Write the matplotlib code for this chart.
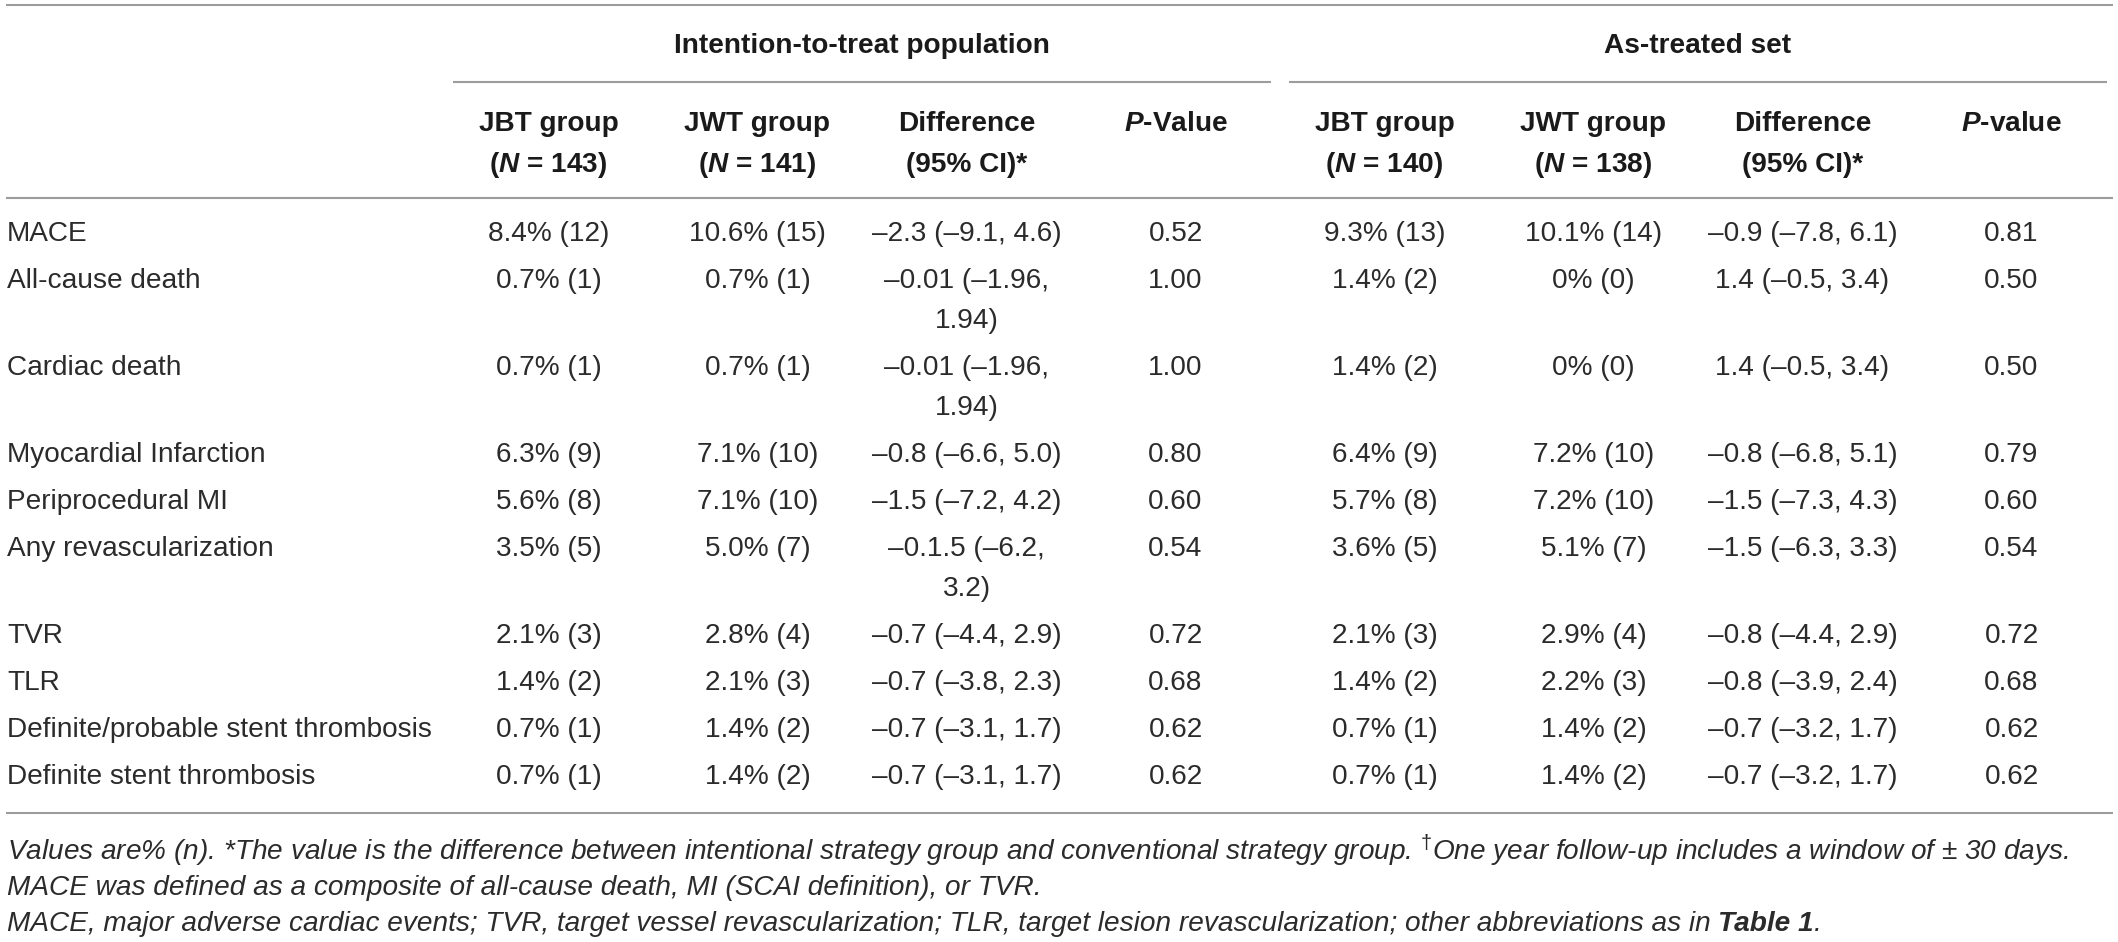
import matplotlib
matplotlib.use("Agg")
import matplotlib.pyplot as plt
from matplotlib import font_manager

FONT = "Liberation Sans"
plt.rcParams["font.family"] = [FONT, "DejaVu Sans"]
plt.rcParams["mathtext.fontset"] = "custom"
plt.rcParams["mathtext.rm"] = FONT
plt.rcParams["mathtext.it"] = FONT + ":italic:bold"
plt.rcParams["mathtext.bf"] = FONT + ":bold"

# ---- table content -------------------------------------------------------
groups = ["Intention-to-treat population", "As-treated set"]
col_heads = [
    ["JBT group", r"($N$ = 143)"],
    ["JWT group", r"($N$ = 141)"],
    ["Difference", "(95% CI)*"],
    [r"$P$-Value"],
    ["JBT group", r"($N$ = 140)"],
    ["JWT group", r"($N$ = 138)"],
    ["Difference", "(95% CI)*"],
    [r"$P$-value"],
]
labels = ["MACE", "All-cause death", "Cardiac death", "Myocardial Infarction",
          "Periprocedural MI", "Any revascularization", "TVR", "TLR",
          "Definite/probable stent thrombosis", "Definite stent thrombosis"]

itt_jbt = ["8.4% (12)", "0.7% (1)", "0.7% (1)", "6.3% (9)", "5.6% (8)",
           "3.5% (5)", "2.1% (3)", "1.4% (2)", "0.7% (1)", "0.7% (1)"]
itt_jwt = ["10.6% (15)", "0.7% (1)", "0.7% (1)", "7.1% (10)", "7.1% (10)",
           "5.0% (7)", "2.8% (4)", "2.1% (3)", "1.4% (2)", "1.4% (2)"]
itt_diff = ["–2.3 (–9.1, 4.6)", "–0.01 (–1.96, 1.94)", "–0.01 (–1.96, 1.94)",
            "–0.8 (–6.6, 5.0)", "–1.5 (–7.2, 4.2)", "–0.1.5 (–6.2, 3.2)",
            "–0.7 (–4.4, 2.9)", "–0.7 (–3.8, 2.3)", "–0.7 (–3.1, 1.7)",
            "–0.7 (–3.1, 1.7)"]
itt_p = ["0.52", "1.00", "1.00", "0.80", "0.60", "0.54", "0.72", "0.68",
         "0.62", "0.62"]
at_jbt = ["9.3% (13)", "1.4% (2)", "1.4% (2)", "6.4% (9)", "5.7% (8)",
          "3.6% (5)", "2.1% (3)", "1.4% (2)", "0.7% (1)", "0.7% (1)"]
at_jwt = ["10.1% (14)", "0% (0)", "0% (0)", "7.2% (10)", "7.2% (10)",
          "5.1% (7)", "2.9% (4)", "2.2% (3)", "1.4% (2)", "1.4% (2)"]
at_diff = ["–0.9 (–7.8, 6.1)", "1.4 (–0.5, 3.4)", "1.4 (–0.5, 3.4)",
           "–0.8 (–6.8, 5.1)", "–1.5 (–7.3, 4.3)", "–1.5 (–6.3, 3.3)",
           "–0.8 (–4.4, 2.9)", "–0.8 (–3.9, 2.4)", "–0.7 (–3.2, 1.7)",
           "–0.7 (–3.2, 1.7)"]
at_p = ["0.81", "0.50", "0.50", "0.79", "0.60", "0.54", "0.72", "0.68",
        "0.62", "0.62"]

foot1 = ("Values are% (n). *The value is the difference between intentional "
         "strategy group and conventional strategy group. ${}^{\\dagger}$One year "
         "follow-up includes a window of ± 30 days.")
foot2 = "MACE was defined as a composite of all-cause death, MI (SCAI definition), or TVR."
foot3 = ("MACE, major adverse cardiac events; TVR, target vessel revascularization; "
         "TLR, target lesion revascularization; other abbreviations as in ")
foot3_ref = "Table 1"

# ---- layout ---------------------------------------------------------------
W, H, DPI = 2118, 942, 100
FS = 20.2                 # ~28 px em
INK = "#2b2b2b"
HEAD = "#1a1a1a"
RULE = "#9c9c9c"
LABEL_W, COL_W = 444, 209
X0, X1 = 6, 2113
ROW, LINE = 47, 40
MAX_CELL = 200

fig = plt.figure(figsize=(W / DPI, H / DPI), dpi=DPI)
ax = fig.add_axes([0, 0, 1, 1])
ax.set_xlim(0, W)
ax.set_ylim(H, 0)
ax.axis("off")
renderer = fig.canvas.get_renderer()


def text_w(s, **kw):
    t = ax.text(0, 0, s, **kw)
    w = t.get_window_extent(renderer).width
    t.remove()
    return w


def wrap(s):
    words = s.split(" ")
    lines, cur = [], words[0]
    for wd in words[1:]:
        if text_w(cur + " " + wd, fontsize=FS) <= MAX_CELL:
            cur = cur + " " + wd
        else:
            lines.append(cur)
            cur = wd
    lines.append(cur)
    return lines


centers = [LABEL_W + COL_W * (i + 0.5) for i in range(8)]

# rules
ax.hlines(5, X0, X1, color=RULE, lw=1.5)
ax.hlines(198, X0, X1, color=RULE, lw=1.5)
for g, name in enumerate(groups):
    gl = LABEL_W + 4 * COL_W * g
    gr = gl + 4 * COL_W
    ax.hlines(82, gl + 9, min(gr - 9, X1), color=RULE, lw=1.5)
    ax.text((gl + gr) / 2, 46, name, ha="center", va="center", fontsize=FS,
            fontweight="bold", color=HEAD)

for cx, head in zip(centers, col_heads):
    for k, line in enumerate(head):
        ax.text(cx, 124 + 41 * k, line, ha="center", va="center", fontsize=FS,
                fontweight="bold", color=HEAD)

# body
value_cols = [itt_jbt, itt_jwt, itt_diff, itt_p, at_jbt, at_jwt, at_diff, at_p]
y = 234
last = y
for i, lab in enumerate(labels):
    cells = [wrap(col[i]) for col in value_cols]
    n = max(len(c) for c in cells)
    ax.text(7, y, lab, ha="left", va="center", fontsize=FS, color=INK)
    for cx, lines in zip(centers, cells):
        for k, line in enumerate(lines):
            ax.text(cx, y + LINE * k, line, ha="center", va="center",
                    fontsize=FS, color=INK)
    last = y + LINE * (n - 1)
    y = last + ROW

bottom = last + 36
ax.hlines(bottom, X0, X1, color=RULE, lw=1.5)

# footnotes (condensed italic, fitted to the table width)
names = {f.name for f in font_manager.fontManager.ttflist}
foot_font = "Liberation Sans Narrow" if "Liberation Sans Narrow" in names else FONT
fkw = dict(fontfamily=foot_font, fontstyle="italic", color=INK)
fs_foot = min(FS, FS * (X1 - 7) / text_w(foot1, fontsize=FS, **fkw))
fkw["fontsize"] = fs_foot

ax.text(7, bottom + 38, foot1, ha="left", va="center", **fkw)
ax.text(7, bottom + 75, foot2, ha="left", va="center", **fkw)
t3 = ax.text(7, bottom + 111, foot3, ha="left", va="center", **fkw)
t4 = ax.annotate(foot3_ref, xy=(1, 0), xycoords=t3, va="bottom", ha="left",
                 fontweight="bold", **fkw)
ax.annotate(".", xy=(1, 0), xycoords=t4, va="bottom", ha="left", **fkw)

fig.savefig("out.png", dpi=DPI)
